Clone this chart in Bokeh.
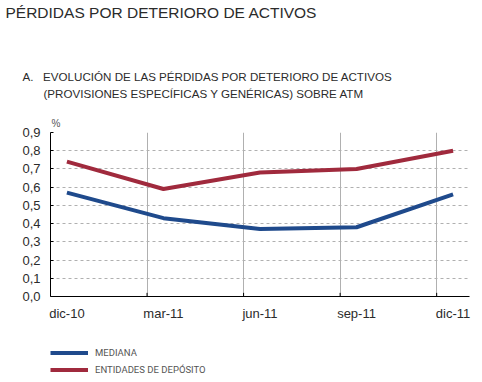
from bokeh.plotting import figure
from bokeh.models import (Range1d, FixedTicker, Title, Legend, LegendItem, ColumnDataSource)
from bokeh.layouts import column
from bokeh.embed import file_html
from bokeh.resources import INLINE

# ---- data ----
periods = ["dic-10", "mar-11", "jun-11", "sep-11", "dic-11"]
mediana = [0.57, 0.43, 0.37, 0.38, 0.56]
entidades = [0.74, 0.59, 0.68, 0.70, 0.80]
y_ticks = [0.0, 0.1, 0.2, 0.3, 0.4, 0.5, 0.6, 0.7, 0.8, 0.9]
y_tick_labels = ["0,0", "0,1", "0,2", "0,3", "0,4", "0,5", "0,6", "0,7", "0,8", "0,9"]
series_names = ["MEDIANA", "ENTIDADES DE DEPÓSITO"]

title_text = "PÉRDIDAS POR DETERIORO DE ACTIVOS"
sub1 = "A.\u00a0\u00a0\u00a0EVOLUCIÓN DE LAS PÉRDIDAS POR DETERIORO DE ACTIVOS"
sub2 = "(PROVISIONES ESPECÍFICAS Y GENÉRICAS) SOBRE ATM"

BLUE = "#1f4a8c"
RED = "#a02a3d"
FONT = "Liberation Sans"
TXT = "#2b2b2b"

xs = list(range(len(periods)))
src = ColumnDataSource(dict(x=xs, m=mediana, e=entidades))

p = figure(width=482, height=336, output_backend="svg", toolbar_location=None,
           x_range=Range1d(-0.17, len(periods) - 1 + 0.17), y_range=Range1d(0, 0.9),
           min_border_left=50, min_border_right=13, min_border_top=132, min_border_bottom=40)
p.outline_line_color = None

# axes
p.xaxis.ticker = FixedTicker(ticks=xs)
p.xaxis.major_label_overrides = {i: lab for i, lab in enumerate(periods)}
p.xaxis.major_tick_line_color = None
p.xaxis.major_tick_in = 0
p.xaxis.major_tick_out = 0
p.xaxis.axis_line_color = "black"
p.xaxis.major_label_text_font = FONT
p.xaxis.major_label_text_font_size = "13px"
p.xaxis.major_label_text_color = TXT
p.xaxis.major_label_standoff = 9
p.xaxis.minor_tick_line_color = None

p.yaxis.ticker = FixedTicker(ticks=y_ticks)
p.yaxis.major_label_overrides = {t: l for t, l in zip(y_ticks, y_tick_labels)}
p.yaxis.major_tick_in = 3
p.yaxis.major_tick_out = 0
p.yaxis.major_tick_line_color = "black"
p.yaxis.minor_tick_line_color = None
p.yaxis.axis_line_color = "black"
p.yaxis.major_label_text_font = FONT
p.yaxis.major_label_text_font_size = "13px"
p.yaxis.major_label_text_color = TXT
p.yaxis.major_label_standoff = 10

# grids
grid_x = [i - 0.17 for i in xs[1:]]
p.xgrid.ticker = FixedTicker(ticks=grid_x)
p.xgrid.grid_line_color = "#b0b0b0"
p.xgrid.grid_line_width = 1
p.ygrid.ticker = FixedTicker(ticks=y_ticks[1:])
p.ygrid.grid_line_color = "#b0b0b0"
p.ygrid.grid_line_dash = "3 3"

# small inward ticks at grid positions
p.segment(x0=grid_x, x1=grid_x, y0=[0] * len(grid_x), y1=[0.02] * len(grid_x),
          line_color="black", line_width=1)

p.line("x", "m", source=src, line_color=BLUE, line_width=4)
p.line("x", "e", source=src, line_color=RED, line_width=4)

def ttl(text, offset, size, standoff, color=TXT):
    p.add_layout(Title(text=text, align="left", offset=offset, standoff=standoff,
                       text_font=FONT, text_font_size=size, text_color=color,
                       text_font_style="normal"), "above")

# stacked from the frame upwards
ttl("%", 1, "10px", 7, "#555555")
ttl("\u00a0", 0, "10px", 0)          # spacer
ttl(sub2, -7, "11.6px", 0)
ttl(sub1, -28, "11.6px", 3)
ttl("\u00a0", 0, "10px", 33)         # spacer
ttl(title_text, -45, "15.5px", 0)

# ---- legend strip below the chart ----
p2 = figure(width=482, height=46, output_backend="svg", toolbar_location=None,
            x_axis_type=None, y_axis_type=None, x_range=Range1d(-20, -10), y_range=Range1d(0, 1),
            min_border=0)
p2.outline_line_color = None
p2.grid.visible = False
lb = p2.line(xs, mediana, line_color=BLUE, line_width=4)
lr = p2.line(xs, entidades, line_color=RED, line_width=4)
legend = Legend(items=[LegendItem(label=series_names[0], renderers=[lb]),
                       LegendItem(label=series_names[1], renderers=[lr])],
                location=(0, 4), orientation="vertical",
                glyph_width=38, glyph_height=17, label_height=17, spacing=0,
                padding=0, margin=0, label_standoff=7,
                border_line_color=None, background_fill_alpha=0,
                label_text_font="Roboto", label_text_font_size="9.5px",
                label_text_color="#555555")
p2.add_layout(legend)

layout = column(p, p2, spacing=0)
open("out.html", "w").write(file_html(layout, INLINE))
